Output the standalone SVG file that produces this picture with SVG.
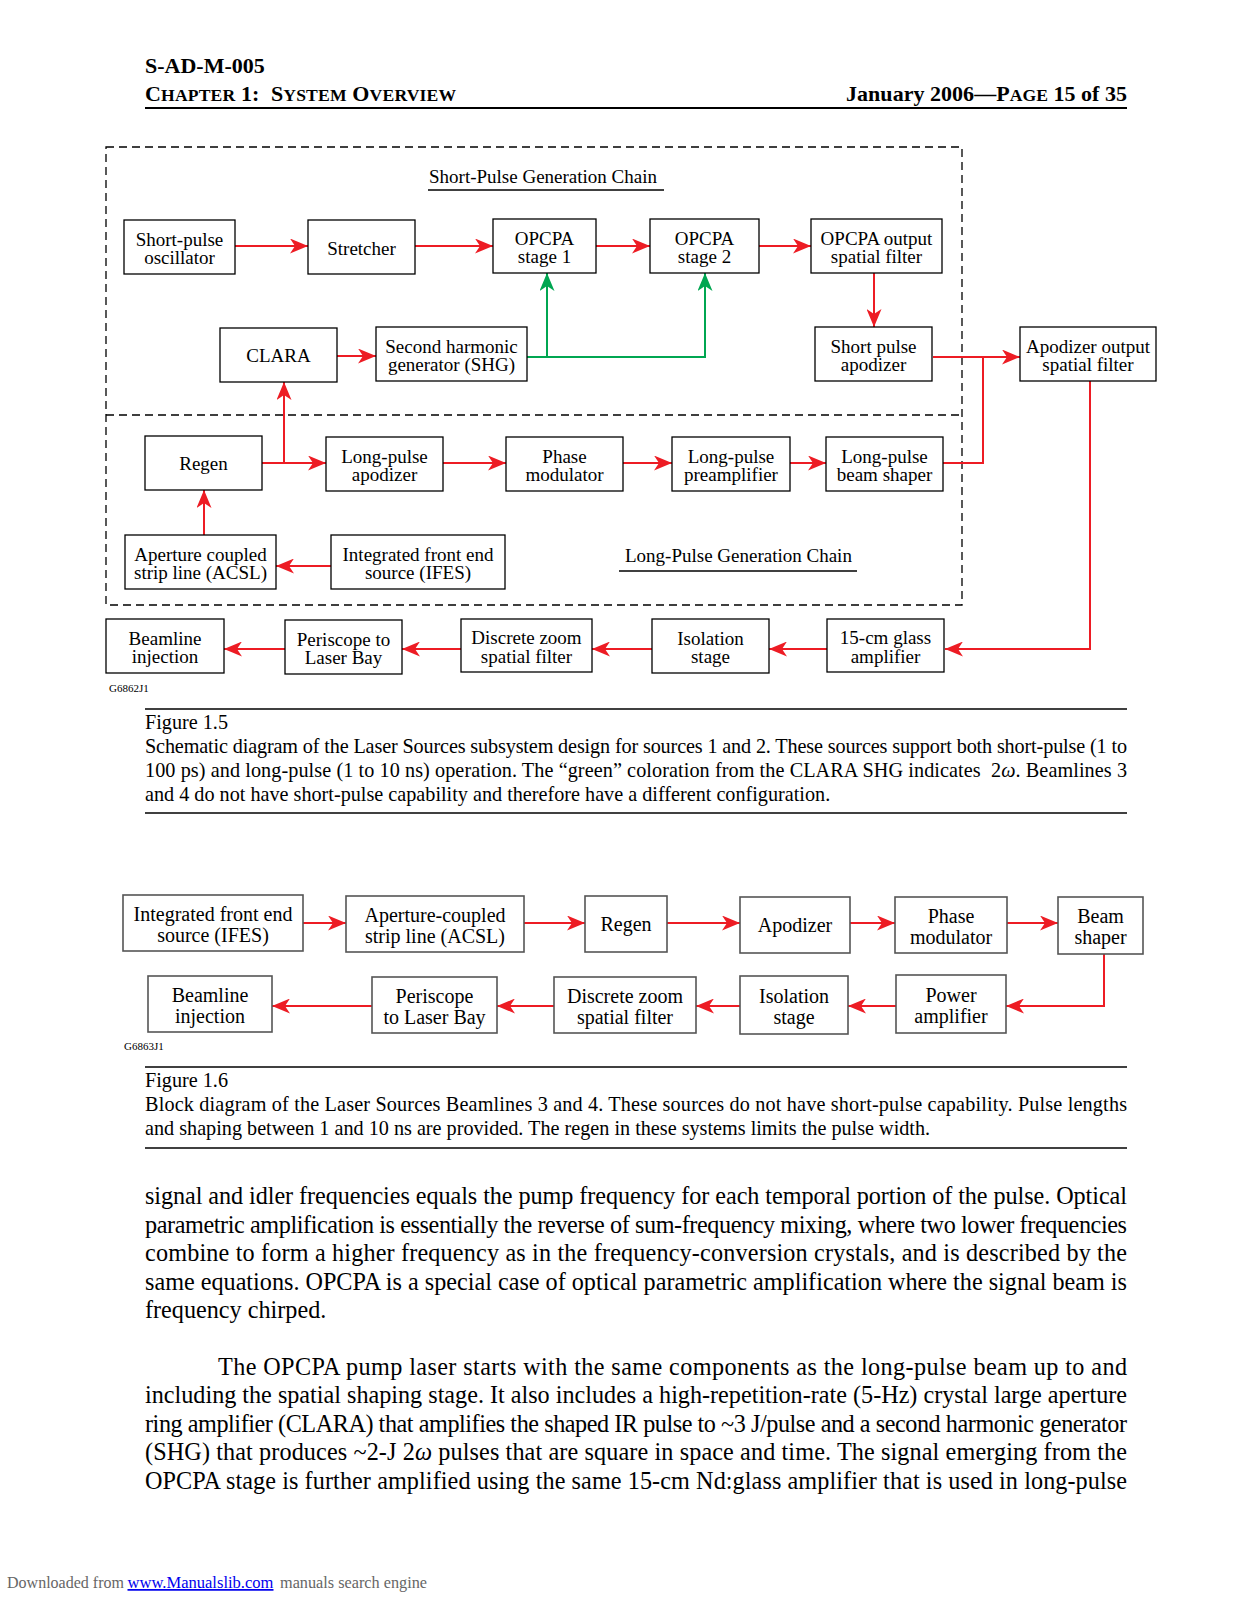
<svg xmlns="http://www.w3.org/2000/svg" width="1237" height="1600" viewBox="0 0 1237 1600">
<style>
.bx{fill:#fff;stroke:#000;stroke-width:1.3}
.bx2{fill:#fff;stroke:#555;stroke-width:1.6}
.t{font-family:"Liberation Serif","Times New Roman",serif;font-size:19px;text-anchor:middle;fill:#000}
.t2{font-family:"Liberation Serif","Times New Roman",serif;font-size:20px;text-anchor:middle;fill:#000}
.lbl{font-family:"Liberation Serif","Times New Roman",serif;font-size:19px;fill:#000}
.code{font-family:"Liberation Serif","Times New Roman",serif;font-size:11px;fill:#000}
.cap{font-family:"Liberation Serif","Times New Roman",serif;font-size:20.2px;fill:#000}
.body{font-family:"Liberation Serif","Times New Roman",serif;font-size:24.2px;fill:#000}
.hd{font-family:"Liberation Serif","Times New Roman",serif;font-size:22px;font-weight:bold;fill:#000}
.sc{font-size:17.6px}
.ft{font-family:"Liberation Serif","Times New Roman",serif;font-size:17.4px;fill:#666}
.red{stroke:#ED1C24;stroke-width:2;fill:none}
.grn{stroke:#00A651;stroke-width:2;fill:none}
.dash{stroke:#000;stroke-width:1.3;fill:none;stroke-dasharray:8 5}
.rule{stroke:#000;stroke-width:1.3}
</style>
<defs>
<marker id="ar" markerUnits="userSpaceOnUse" viewBox="0 0 18 15" refX="18" refY="7.5" markerWidth="18" markerHeight="15" orient="auto">
<path d="M0,0 L18,7.5 L0,15 L5,7.5 Z" fill="#ED1C24"/>
</marker>
<marker id="ag" markerUnits="userSpaceOnUse" viewBox="0 0 18 15" refX="18" refY="7.5" markerWidth="18" markerHeight="15" orient="auto">
<path d="M0,0 L18,7.5 L0,15 L5,7.5 Z" fill="#00A651"/>
</marker>
</defs>
<rect width="1237" height="1600" fill="#fff"/>

<g id="header">
<text class="hd" x="145" y="73">S-AD-M-005</text>
<text class="hd" x="145" y="101" textLength="311" lengthAdjust="spacing">C<tspan class="sc">HAPTER</tspan> 1:&#160; S<tspan class="sc">YSTEM</tspan> O<tspan class="sc">VERVIEW</tspan></text>
<text class="hd" x="846" y="101" textLength="281" lengthAdjust="spacing">January 2006—P<tspan class="sc">AGE</tspan> 15 of 35</text>
<line x1="145" y1="108" x2="1127" y2="108" stroke="#000" stroke-width="2"/>
</g>

<g id="frames">
<rect class="dash" x="106" y="147" width="856" height="458"/>
<line class="dash" x1="106" y1="415" x2="962" y2="415"/>
<text class="lbl" x="429" y="183">Short-Pulse Generation Chain</text>
<line class="rule" x1="428" y1="190" x2="664" y2="190"/>
<text class="lbl" x="625" y="562">Long-Pulse Generation Chain</text>
<line class="rule" x1="619" y1="571" x2="857" y2="571"/>
<text class="code" x="109" y="692">G6862J1</text>
</g>

<g id="connectors">
<path class="red" marker-end="url(#ar)" d="M235,246 H308"/>
<path class="red" marker-end="url(#ar)" d="M415,246 H493"/>
<path class="red" marker-end="url(#ar)" d="M596,246 H650"/>
<path class="red" marker-end="url(#ar)" d="M759,246 H811"/>
<path class="red" marker-end="url(#ar)" d="M874,273 V327"/>
<path class="red" marker-end="url(#ar)" d="M337,356 H376"/>
<path class="grn" marker-end="url(#ag)" d="M527,357 H705 V273"/>
<path class="grn" marker-end="url(#ag)" d="M547,357 V273"/>
<path class="red" marker-end="url(#ar)" d="M933,357 H1020"/>
<path class="red" d="M943,463 H983 V357"/>
<path class="red" marker-end="url(#ar)" d="M1090,381 V649 H945"/>
<path class="red" marker-end="url(#ar)" d="M262,463 H326"/>
<path class="red" marker-end="url(#ar)" d="M284,463 V382"/>
<path class="red" marker-end="url(#ar)" d="M443,463 H506"/>
<path class="red" marker-end="url(#ar)" d="M623,463 H672"/>
<path class="red" marker-end="url(#ar)" d="M790,463 H826"/>
<path class="red" marker-end="url(#ar)" d="M204,535 V490"/>
<path class="red" marker-end="url(#ar)" d="M331,566 H276"/>
<path class="red" marker-end="url(#ar)" d="M827,649 H769"/>
<path class="red" marker-end="url(#ar)" d="M652,649 H592"/>
<path class="red" marker-end="url(#ar)" d="M461,649 H402"/>
<path class="red" marker-end="url(#ar)" d="M285,649 H224"/>

<path class="red" marker-end="url(#ar)" d="M303,923 H346"/>
<path class="red" marker-end="url(#ar)" d="M524,923 H585"/>
<path class="red" marker-end="url(#ar)" d="M667,923 H740"/>
<path class="red" marker-end="url(#ar)" d="M850,923 H895"/>
<path class="red" marker-end="url(#ar)" d="M1007,923 H1058"/>
<path class="red" marker-end="url(#ar)" d="M1104,954 V1006 H1006"/>
<path class="red" marker-end="url(#ar)" d="M896,1006 H848"/>
<path class="red" marker-end="url(#ar)" d="M740,1006 H696"/>
<path class="red" marker-end="url(#ar)" d="M554,1006 H497"/>
<path class="red" marker-end="url(#ar)" d="M372,1006 H272"/>
</g>

<g id="n-osc"><rect class="bx" x="124" y="220" width="111" height="54"/><text class="t" x="179.5" y="245.5">Short-pulse</text><text class="t" x="179.5" y="264">oscillator</text></g>
<g id="n-stretcher"><rect class="bx" x="308" y="220" width="107" height="54"/><text class="t" x="361.5" y="254.5">Stretcher</text></g>
<g id="n-opcpa1"><rect class="bx" x="493" y="219" width="103" height="54"/><text class="t" x="544.5" y="244.5">OPCPA</text><text class="t" x="544.5" y="263">stage 1</text></g>
<g id="n-opcpa2"><rect class="bx" x="650" y="219" width="109" height="54"/><text class="t" x="704.5" y="244.5">OPCPA</text><text class="t" x="704.5" y="263">stage 2</text></g>
<g id="n-opcpaflt"><rect class="bx" x="811" y="219" width="131" height="54"/><text class="t" x="876.5" y="244.5">OPCPA output</text><text class="t" x="876.5" y="263">spatial filter</text></g>
<g id="n-clara"><rect class="bx" x="220" y="328" width="117" height="54"/><text class="t" x="278.5" y="362">CLARA</text></g>
<g id="n-shg"><rect class="bx" x="376" y="327" width="151" height="54"/><text class="t" x="451.5" y="352.5">Second harmonic</text><text class="t" x="451.5" y="371">generator (SHG)</text></g>
<g id="n-spapod"><rect class="bx" x="815" y="327" width="117" height="54"/><text class="t" x="873.5" y="352.5">Short pulse</text><text class="t" x="873.5" y="371">apodizer</text></g>
<g id="n-apodflt"><rect class="bx" x="1020" y="327" width="136" height="54"/><text class="t" x="1088" y="352.5">Apodizer output</text><text class="t" x="1088" y="371">spatial filter</text></g>
<g id="n-regen"><rect class="bx" x="145" y="436" width="117" height="54"/><text class="t" x="203.5" y="470">Regen</text></g>
<g id="n-lpapod"><rect class="bx" x="326" y="437" width="117" height="54"/><text class="t" x="384.5" y="462.5">Long-pulse</text><text class="t" x="384.5" y="481">apodizer</text></g>
<g id="n-phase"><rect class="bx" x="506" y="437" width="117" height="54"/><text class="t" x="564.5" y="462.5">Phase</text><text class="t" x="564.5" y="481">modulator</text></g>
<g id="n-preamp"><rect class="bx" x="672" y="437" width="118" height="54"/><text class="t" x="731" y="462.5">Long-pulse</text><text class="t" x="731" y="481">preamplifier</text></g>
<g id="n-shaper"><rect class="bx" x="826" y="437" width="117" height="54"/><text class="t" x="884.5" y="462.5">Long-pulse</text><text class="t" x="884.5" y="481">beam shaper</text></g>
<g id="n-acsl"><rect class="bx" x="125" y="535" width="151" height="54"/><text class="t" x="200.5" y="560.5">Aperture coupled</text><text class="t" x="200.5" y="579">strip line (ACSL)</text></g>
<g id="n-ifes"><rect class="bx" x="331" y="535" width="174" height="54"/><text class="t" x="418" y="560.5">Integrated front end</text><text class="t" x="418" y="579">source (IFES)</text></g>
<g id="n-beamline"><rect class="bx" x="106" y="619" width="118" height="54"/><text class="t" x="165" y="644.5">Beamline</text><text class="t" x="165" y="663">injection</text></g>
<g id="n-periscope"><rect class="bx" x="285" y="620" width="117" height="54"/><text class="t" x="343.5" y="645.5">Periscope to</text><text class="t" x="343.5" y="664">Laser Bay</text></g>
<g id="n-dzsf"><rect class="bx" x="461" y="619" width="131" height="53"/><text class="t" x="526.5" y="644">Discrete zoom</text><text class="t" x="526.5" y="662.5">spatial filter</text></g>
<g id="n-iso"><rect class="bx" x="652" y="619" width="117" height="54"/><text class="t" x="710.5" y="644.5">Isolation</text><text class="t" x="710.5" y="663">stage</text></g>
<g id="n-glass"><rect class="bx" x="827" y="619" width="117" height="53"/><text class="t" x="885.5" y="644">15-cm glass</text><text class="t" x="885.5" y="662.5">amplifier</text></g>

<g id="caption15">
<line class="rule" x1="145" y1="709" x2="1127" y2="709"/>
<text class="cap" x="145" y="728.5">Figure 1.5</text>
<text class="cap" x="145" y="752.5" textLength="982" lengthAdjust="spacing">Schematic diagram of the Laser Sources subsystem design for sources 1 and 2. These sources support both short-pulse (1 to</text>
<text class="cap" x="145" y="777" textLength="982" lengthAdjust="spacing">100 ps) and long-pulse (1 to 10 ns) operation. The “green” coloration from the CLARA SHG indicates&#160; 2<tspan font-style="italic">ω</tspan>. Beamlines 3</text>
<text class="cap" x="145" y="801">and 4 do not have short-pulse capability and therefore have a different configuration.</text>
<line class="rule" x1="145" y1="813" x2="1127" y2="813"/>
</g>

<g id="f16-label"><text class="code" x="124" y="1050">G6863J1</text></g>
<g id="m-ifes"><rect class="bx2" x="123" y="895" width="180" height="56"/><text class="t2" x="213" y="921">Integrated front end</text><text class="t2" x="213" y="942">source (IFES)</text></g>
<g id="m-acsl"><rect class="bx2" x="346" y="896" width="178" height="56"/><text class="t2" x="435" y="921.5">Aperture-coupled</text><text class="t2" x="435" y="942.5">strip line (ACSL)</text></g>
<g id="m-regen"><rect class="bx2" x="585" y="896" width="82" height="56"/><text class="t2" x="626" y="930.5">Regen</text></g>
<g id="m-apod"><rect class="bx2" x="740" y="897" width="110" height="56"/><text class="t2" x="795" y="931.5">Apodizer</text></g>
<g id="m-phase"><rect class="bx2" x="895" y="897" width="112" height="56"/><text class="t2" x="951" y="922.5">Phase</text><text class="t2" x="951" y="943.5">modulator</text></g>
<g id="m-shaper"><rect class="bx2" x="1058" y="897" width="85" height="57"/><text class="t2" x="1100.5" y="922.5">Beam</text><text class="t2" x="1100.5" y="943.5">shaper</text></g>
<g id="m-beamline"><rect class="bx2" x="148" y="976" width="124" height="56"/><text class="t2" x="210" y="1001.5">Beamline</text><text class="t2" x="210" y="1022.5">injection</text></g>
<g id="m-periscope"><rect class="bx2" x="372" y="977" width="125" height="56"/><text class="t2" x="434.5" y="1002.5">Periscope</text><text class="t2" x="434.5" y="1023.5">to Laser Bay</text></g>
<g id="m-dzsf"><rect class="bx2" x="554" y="977" width="142" height="56"/><text class="t2" x="625" y="1002.5">Discrete zoom</text><text class="t2" x="625" y="1023.5">spatial filter</text></g>
<g id="m-iso"><rect class="bx2" x="740" y="976" width="108" height="58"/><text class="t2" x="794" y="1002.5">Isolation</text><text class="t2" x="794" y="1023.5">stage</text></g>
<g id="m-power"><rect class="bx2" x="896" y="975" width="110" height="58"/><text class="t2" x="951" y="1001.5">Power</text><text class="t2" x="951" y="1022.5">amplifier</text></g>

<g id="caption16">
<line class="rule" x1="145" y1="1067" x2="1127" y2="1067"/>
<text class="cap" x="145" y="1086.5">Figure 1.6</text>
<text class="cap" x="145" y="1111" textLength="982" lengthAdjust="spacing">Block diagram of the Laser Sources Beamlines 3 and 4. These sources do not have short-pulse capability. Pulse lengths</text>
<text class="cap" x="145" y="1135">and shaping between 1 and 10 ns are provided. The regen in these systems limits the pulse width.</text>
<line class="rule" x1="145" y1="1148" x2="1127" y2="1148"/>
</g>

<g id="bodytext">
<text class="body" x="145" y="1204" textLength="982" lengthAdjust="spacing">signal and idler frequencies equals the pump frequency for each temporal portion of the pulse. Optical</text>
<text class="body" x="145" y="1232.5" textLength="982" lengthAdjust="spacing">parametric amplification is essentially the reverse of sum-frequency mixing, where two lower frequencies</text>
<text class="body" x="145" y="1261" textLength="982" lengthAdjust="spacing">combine to form a higher frequency as in the frequency-conversion crystals, and is described by the</text>
<text class="body" x="145" y="1289.5" textLength="982" lengthAdjust="spacing">same equations. OPCPA is a special case of optical parametric amplification where the signal beam is</text>
<text class="body" x="145" y="1318">frequency chirped.</text>
<text class="body" x="218" y="1374.5" textLength="909" lengthAdjust="spacing">The OPCPA pump laser starts with the same components as the long-pulse beam up to and</text>
<text class="body" x="145" y="1403" textLength="982" lengthAdjust="spacing">including the spatial shaping stage. It also includes a high-repetition-rate (5-Hz) crystal large aperture</text>
<text class="body" x="145" y="1431.5" textLength="982" lengthAdjust="spacing">ring amplifier (CLARA) that amplifies the shaped IR pulse to ~3 J/pulse and a second harmonic generator</text>
<text class="body" x="145" y="1460" textLength="982" lengthAdjust="spacing">(SHG) that produces ~2-J 2<tspan font-style="italic">ω</tspan> pulses that are square in space and time. The signal emerging from the</text>
<text class="body" x="145" y="1488.5" textLength="982" lengthAdjust="spacing">OPCPA stage is further amplified using the same 15-cm Nd:glass amplifier that is used in long-pulse</text>
</g>

<g id="footer">
<text class="ft" x="7" y="1588" textLength="117" lengthAdjust="spacingAndGlyphs">Downloaded from</text>
<text class="ft" x="127.5" y="1588" textLength="146" lengthAdjust="spacingAndGlyphs" fill="#0000EE" style="fill:#0000EE" text-decoration="underline">www.Manualslib.com</text>
<text class="ft" x="280" y="1588" textLength="147" lengthAdjust="spacingAndGlyphs">manuals search engine</text>
</g>
</svg>
